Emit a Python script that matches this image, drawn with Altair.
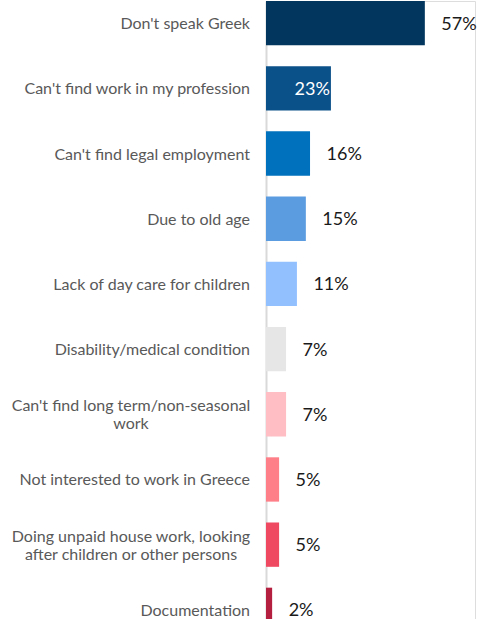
import altair as alt
import pandas as pd

categories = [
    "Don't speak Greek",
    "Can't find work in my profession",
    "Can't find legal employment",
    "Due to old age",
    "Lack of day care for children",
    "Disability/medical condition",
    "Can't find long term/non-seasonal\nwork",
    "Not interested to work in Greece",
    "Doing unpaid house work, looking\nafter children or other persons",
    "Documentation",
]
values = [57.0, 23.3, 15.8, 14.3, 11.1, 7.2, 7.2, 4.7, 4.7, 2.2]
value_labels = ["57%", "23%", "16%", "15%", "11%", "7%", "7%", "5%", "5%", "2%"]
colors = ["#02365E", "#0B5189", "#0071BC", "#5B9CE1", "#92C0FF",
          "#E6E6E6", "#FFBEC3", "#FF7F89", "#EF4962", "#B51F3F"]
inside_label = ["Can't find work in my profession"]

df = pd.DataFrame({"cat": categories, "value": values, "label": value_labels})
df["multi"] = df["cat"].str.contains("\n")
df["inside"] = df["cat"].isin(inside_label)

y = alt.Y("cat:N", sort=categories,
          scale=alt.Scale(range=[0, 631], paddingInner=0.32, paddingOuter=0),
          axis=alt.Axis(title=None, labels=False, ticks=False, domain=True,
                        domainColor="#D9D9D9", domainWidth=2, grid=False))
x = alt.X("value:Q", scale=alt.Scale(domain=[0, 75]), axis=None)

base = alt.Chart(df)

bars = base.mark_bar(clip=True).encode(
    y=y, x=x,
    color=alt.Color("cat:N", scale=alt.Scale(domain=categories, range=colors), legend=None),
)

cat_single = base.transform_filter("!datum.multi").mark_text(
    align="right", baseline="middle", dy=1, font="Lato", fontSize=16, color="#595959"
).encode(y=y, x=alt.value(-16), text="cat:N")

cat_multi = base.transform_filter("datum.multi").mark_text(
    align="center", baseline="middle", dy=-8, font="Lato", fontSize=16, color="#595959",
    lineBreak="\n", lineHeight=18
).encode(y=y, x=alt.value(-135), text="cat:N")

val_out = base.transform_filter("!datum.inside").mark_text(
    align="left", baseline="middle", dx=16.5, dy=1.5, font="Lato", fontSize=18, color="#1A1A1A"
).encode(y=y, x=x, text="label:N")

val_in = base.transform_filter("datum.inside").mark_text(
    align="right", baseline="middle", dx=-1, dy=1.5, font="Lato", fontSize=18, color="#FFFFFF"
).encode(y=y, x=x, text="label:N")

chart = alt.layer(bars, cat_single, cat_multi, val_out, val_in).properties(
    width=209, height=618,
    autosize=alt.AutoSizeParams(type="none"),
    padding={"left": 266, "top": 1, "right": 2, "bottom": 0},
).configure_view(stroke=None).configure(font="Lato")

chart.save("out.html", embed_options={"renderer": "svg", "actions": False})
